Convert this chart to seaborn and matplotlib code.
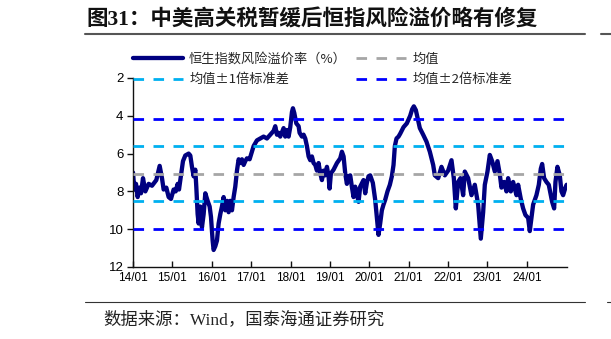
import matplotlib
matplotlib.use("Agg")
import matplotlib.pyplot as plt
from matplotlib.lines import Line2D
from matplotlib.font_manager import FontProperties
import pandas as pd
import seaborn as sns

# Hang Seng equity risk premium (%), sampled along the time axis (decimal years)
t_year = [
    2014.000, 2014.034, 2014.076, 2014.118, 2014.161, 2014.203, 2014.254, 2014.313,
    2014.398, 2014.482, 2014.592, 2014.677, 2014.736, 2014.778, 2014.846, 2014.905,
    2014.964, 2015.032, 2015.083, 2015.134, 2015.168, 2015.201, 2015.269, 2015.328,
    2015.413, 2015.455, 2015.497, 2015.540, 2015.582, 2015.607, 2015.641, 2015.667,
    2015.709, 2015.751, 2015.794, 2015.836, 2015.895, 2015.946, 2015.980, 2016.022,
    2016.047, 2016.090, 2016.132, 2016.174, 2016.217, 2016.259, 2016.301, 2016.343,
    2016.386, 2016.428, 2016.470, 2016.513, 2016.555, 2016.597, 2016.640, 2016.682,
    2016.724, 2016.766, 2016.809, 2016.851, 2016.893, 2016.961, 2017.020, 2017.063,
    2017.147, 2017.232, 2017.316, 2017.401, 2017.486, 2017.570, 2017.612, 2017.655,
    2017.697, 2017.739, 2017.824, 2017.866, 2017.909, 2017.951, 2017.993, 2018.036,
    2018.061, 2018.095, 2018.146, 2018.205, 2018.230, 2018.289, 2018.332, 2018.374,
    2018.416, 2018.459, 2018.501, 2018.543, 2018.585, 2018.628, 2018.670, 2018.712,
    2018.755, 2018.797, 2018.839, 2018.882, 2018.924, 2018.966, 2018.992, 2019.025,
    2019.093, 2019.178, 2019.262, 2019.305, 2019.347, 2019.389, 2019.431, 2019.474,
    2019.516, 2019.557, 2019.600, 2019.642, 2019.727, 2019.769, 2019.853, 2019.896,
    2019.938, 2019.980, 2020.023, 2020.090, 2020.150, 2020.192, 2020.234, 2020.276,
    2020.319, 2020.361, 2020.403, 2020.462, 2020.522, 2020.573, 2020.615, 2020.649,
    2020.691, 2020.742, 2020.784, 2020.869, 2020.953, 2021.038, 2021.089, 2021.131,
    2021.182, 2021.224, 2021.283, 2021.368, 2021.453, 2021.537, 2021.622, 2021.664,
    2021.749, 2021.833, 2021.918, 2022.002, 2022.087, 2022.146, 2022.197, 2022.256,
    2022.315, 2022.383, 2022.425, 2022.510, 2022.595, 2022.679, 2022.764, 2022.831,
    2022.891, 2022.933, 2023.001, 2023.060, 2023.119, 2023.187, 2023.255, 2023.314,
    2023.356, 2023.424, 2023.483, 2023.525, 2023.593, 2023.652, 2023.737, 2023.779,
    2023.847, 2023.906, 2023.965, 2024.033, 2024.075, 2024.117, 2024.160, 2024.244,
    2024.304, 2024.355, 2024.389, 2024.439, 2024.498, 2024.557, 2024.608, 2024.642,
    2024.693, 2024.727, 2024.777, 2024.837, 2024.879, 2024.921, 2024.980, 2025.010,
]
premium = [
    7.0, 7.9, 7.6, 8.3, 7.8, 8.1, 7.3, 8.0,
    7.6, 7.7, 7.4, 6.65, 7.3, 7.9, 7.8, 8.3,
    8.4, 7.9, 8.0, 7.6, 7.9, 7.4, 6.4, 6.1,
    6.0, 6.1, 6.7, 7.2, 6.85, 7.75, 9.2, 9.7,
    8.8, 9.9, 9.2, 8.1, 8.5, 8.8, 9.35, 10.6,
    11.1, 10.9, 10.6, 9.7, 9.2, 8.8, 8.3, 9.0,
    8.5, 9.1, 8.5, 9.0, 8.3, 7.75, 6.9, 6.3,
    6.5, 6.3, 6.6, 6.4, 6.25, 6.3, 5.9, 5.6,
    5.3, 5.2, 5.1, 5.2, 5.0, 4.8, 4.55, 5.0,
    4.9, 5.1, 4.65, 5.1, 4.75, 5.1, 4.6, 3.8,
    3.6, 3.85, 4.4, 4.55, 4.9, 5.1, 5.0, 5.2,
    5.6, 6.15, 6.35, 6.15, 6.5, 6.6, 6.9, 6.5,
    7.05, 7.4, 6.9, 7.15, 6.7, 7.2, 7.85, 7.05,
    6.85, 6.5, 6.25, 5.9, 6.15, 7.05, 7.6, 7.2,
    7.15, 7.75, 8.3, 7.75, 8.55, 7.75, 7.4, 8.1,
    7.55, 7.2, 7.15, 7.55, 8.45, 9.35, 10.3, 9.7,
    9.0, 8.7, 8.45, 8.0, 7.65, 7.2, 6.6, 5.6,
    5.2, 5.1, 4.95, 4.6, 4.4, 4.0, 3.65, 3.5,
    3.7, 4.1, 4.65, 5.0, 5.37, 5.9, 6.6, 7.15,
    7.3, 6.7, 7.15, 6.9, 6.35, 7.3, 8.9, 7.5,
    7.3, 8.2, 6.95, 7.3, 8.2, 7.65, 8.7, 10.5,
    9.1, 7.65, 6.95, 6.07, 6.4, 6.95, 6.4, 7.1,
    7.8, 7.5, 8.0, 7.3, 8.0, 7.5, 8.2, 7.65,
    8.4, 8.9, 9.25, 9.4, 10.1, 9.4, 8.7, 8.2,
    7.65, 6.8, 6.55, 7.3, 7.5, 7.65, 8.2, 8.55,
    8.9, 7.5, 6.7, 7.15, 8.0, 8.2, 7.8, 7.65,
]

# Long-run mean and standard deviation of the premium
mean_value = 7.07
std_value = 1.46

series_label = "恒生指数风险溢价率（%）"
mean_label = "均值"
band1_label = "均值±1倍标准差"
band2_label = "均值±2倍标准差"

x_ticks = [2014, 2015, 2016, 2017, 2018, 2019, 2020, 2021, 2022, 2023, 2024]
x_ticklabels = ["14/01", "15/01", "16/01", "17/01", "18/01", "19/01",
                "20/01", "21/01", "22/01", "23/01", "24/01"]
y_ticks = [2, 4, 6, 8, 10, 12]

title_text = "图31：中美高关税暂缓后恒指风险溢价略有修复"
source_text = "数据来源：Wind，国泰海通证券研究"

line_color = "#000080"
mean_color = "#a6a6a6"
band1_color = "#00b0f0"
band2_color = "#0000ff"

sns.set_style("ticks")
plt.rcParams["font.family"] = ["Liberation Sans", "Noto Sans CJK SC"]
plt.rcParams["axes.unicode_minus"] = False

W, H = 611, 339
fig = plt.figure(figsize=(W / 100, H / 100), dpi=100)
ax = fig.add_axes([133 / W, 1 - 267 / H, (567 - 133) / W, (267 - 78) / H])

df = pd.DataFrame({"t": t_year, "premium": premium})
sns.lineplot(data=df, x="t", y="premium", ax=ax, color=line_color,
             linewidth=3.1, zorder=2, legend=False)

dash = (0, (3.8, 3.4))
ref_lw = 2.0
ax.axhline(mean_value, color=mean_color, lw=ref_lw, ls=dash, zorder=3)
for k in (1, -1):
    ax.axhline(mean_value + k * std_value, color=band1_color, lw=ref_lw, ls=dash, zorder=3)
    ax.axhline(mean_value + k * 2 * std_value, color=band2_color, lw=ref_lw, ls=dash, zorder=3)

ax.set_xlim(2014.0, 2025.02)
ax.set_ylim(12, 2)
ax.set_xticks(x_ticks)
ax.set_xticklabels(x_ticklabels)
ax.set_yticks(y_ticks)
ax.set_xlabel("")
ax.set_ylabel("")

for side in ("top", "right"):
    ax.spines[side].set_visible(False)
for side in ("left", "bottom"):
    ax.spines[side].set_linewidth(1.0)
    ax.spines[side].set_color("#111111")

ax.tick_params(axis="y", direction="out", length=4, width=1, pad=2.8,
               labelsize=9.5, colors="#111111")
ax.tick_params(axis="x", direction="in", length=4, width=1, pad=3.5,
               labelsize=8.5, colors="#111111")
for lab in ax.get_xticklabels() + ax.get_yticklabels():
    lab.set_color("black")

# Legend: two rows, two columns; the second row sits on the top edge of the plot
handles = [
    Line2D([], [], color=line_color, lw=3.1),
    Line2D([], [], color=band1_color, lw=ref_lw, ls=dash),
    Line2D([], [], color=mean_color, lw=ref_lw, ls=dash),
    Line2D([], [], color=band2_color, lw=ref_lw, ls=dash),
]
labels = [series_label, band1_label, mean_label, band2_label]
leg_font = FontProperties(family=["Noto Sans CJK SC"], size=9.5)
fig.legend(handles, labels, loc="upper left", bbox_to_anchor=(133 / W, 1 - 53 / H),
           bbox_transform=fig.transFigure, ncol=2, frameon=False, prop=leg_font,
           handlelength=3.8, handletextpad=0.45, columnspacing=0.7,
           labelspacing=0.55, borderpad=0, borderaxespad=0)

# Title, rules and source note
fig.text(86 / W, 1 - 20 / H, title_text, fontsize=15.5, weight="bold",
         family=["Liberation Serif", "Noto Sans CJK SC"], ha="left", va="center",
         color="#111111")
fig.add_artist(Line2D([85 / W, 585 / W], [1 - 33.5 / H, 1 - 33.5 / H],
                      transform=fig.transFigure, color="#555555", lw=1.5))
fig.add_artist(Line2D([85 / W, 585 / W], [1 - 302 / H, 1 - 302 / H],
                      transform=fig.transFigure, color="#333333", lw=0.8))
fig.text(103 / W, 1 - 320 / H, source_text, fontsize=12.5,
         family=["Liberation Serif", "Noto Sans CJK SC"], ha="left", va="center",
         color="#222222")

# Rules of the neighbouring panel, cut by the page edge
fig.add_artist(Line2D([601 / W, 1.0], [1 - 33.5 / H, 1 - 33.5 / H],
                      transform=fig.transFigure, color="#555555", lw=1.5))
fig.add_artist(Line2D([607 / W, 1.0], [1 - 302 / H, 1 - 302 / H],
                      transform=fig.transFigure, color="#333333", lw=0.8))

fig.savefig("out.png", dpi=100)
